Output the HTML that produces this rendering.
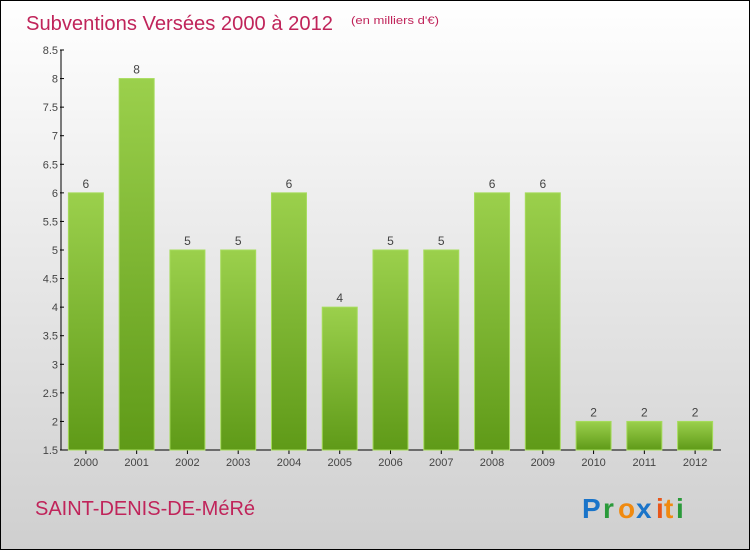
<!DOCTYPE html>
<html><head><meta charset="utf-8"><style>
body{margin:0}
svg text{font-family:"Liberation Sans",sans-serif}
</style></head><body>
<svg id="chart" width="750" height="550" xmlns="http://www.w3.org/2000/svg">
<defs>
<linearGradient id="bg" x1="0" y1="0" x2="0" y2="1"><stop offset="0" stop-color="#ffffff"/><stop offset="1" stop-color="#cfcfcf"/></linearGradient>
<linearGradient id="bar" x1="0" y1="0" x2="0" y2="1"><stop offset="0" stop-color="#9bd04c"/><stop offset="1" stop-color="#5f9a18"/></linearGradient>
</defs>
<rect x="0.5" y="0.5" width="749" height="549" fill="url(#bg)" stroke="#000"/>
<text x="26" y="30" font-size="20" textLength="307" lengthAdjust="spacingAndGlyphs" fill="#c0245a">Subventions Versées 2000 à 2012</text>
<text x="351" y="24" font-size="11" textLength="88" lengthAdjust="spacingAndGlyphs" fill="#c0245a">(en milliers d'€)</text>
<g id="axes"></g>
<g id="bars"></g>
<text x="35" y="515" font-size="20" fill="#c0245a">SAINT-DENIS-DE-MéRé</text>
<g font-size="28" font-weight="bold">
<text x="582" y="518" fill="#1a74c9">P</text><text x="603" y="518" fill="#2a9a3a">r</text><text x="618" y="518" fill="#f08a10">o</text><text x="636" y="518" fill="#1a74c9">x</text><text x="656" y="518" fill="#e8561a">i</text><text x="664" y="518" fill="#f08a10">t</text><text x="676" y="518" fill="#2a9a3a">i</text>
</g>
</svg>
<script>
const years=["2000","2001","2002","2003","2004","2005","2006","2007","2008","2009","2010","2011","2012"];
const values=[6,8,5,5,6,4,5,5,6,6,2,2,2];
const yTicks=[1.5,2,2.5,3,3.5,4,4.5,5,5.5,6,6.5,7,7.5,8,8.5];
const NS="http://www.w3.org/2000/svg";
const yMin=1.5,yMax=8.5,pTop=50,pBot=450,pLeft=61,pRight=721;
const yS=v=>pBot-(v-yMin)/(yMax-yMin)*(pBot-pTop);
const step=(pRight-pLeft)/years.length;
const xS=i=>pLeft+step*(i+0.5)-0.5;
function mk(t,a,p){const e=document.createElementNS(NS,t);for(const k in a)e.setAttribute(k,a[k]);p.appendChild(e);return e;}
const ax=document.getElementById('axes'),bg=document.getElementById('bars');
let l=mk('line',{x1:pLeft,y1:pTop,x2:pLeft,y2:pBot,stroke:'#000'},ax);


l=mk('line',{x1:pLeft,y1:pBot,x2:pRight,y2:pBot,stroke:'#000'},ax);


yTicks.forEach(v=>{
 const t=mk('line',{x1:pLeft-1,x2:pLeft+3,y1:yS(v),y2:yS(v),stroke:'#000'},ax);
 
 
 const tx=mk('text',{x:pLeft-3,y:yS(v)+4,'font-size':11,'text-anchor':'end',fill:'#444'},ax);
 tx.textContent=String(v);
 
 
});
years.forEach((yr,i)=>{
 const cx=xS(i),w=35,v=values[i];
 const r=mk('rect',{x:cx-w/2,y:yS(v),width:w,height:pBot-yS(v),fill:'url(#bar)',stroke:'#a6dc5c','stroke-width':1},bg);
 
 
 const lb=mk('text',{x:cx,y:yS(v)-5,'font-size':12,'text-anchor':'middle',fill:'#444'},bg);
 lb.textContent=String(v);
 
 
 const tk=mk('line',{x1:cx,x2:cx,y1:pBot,y2:pBot+4,stroke:'#000'},ax);
 
 
 const xl=mk('text',{x:cx,y:pBot+16,'font-size':11,'text-anchor':'middle',fill:'#444'},ax);
 xl.textContent=yr;
 
 
});
</script>
</body></html>
